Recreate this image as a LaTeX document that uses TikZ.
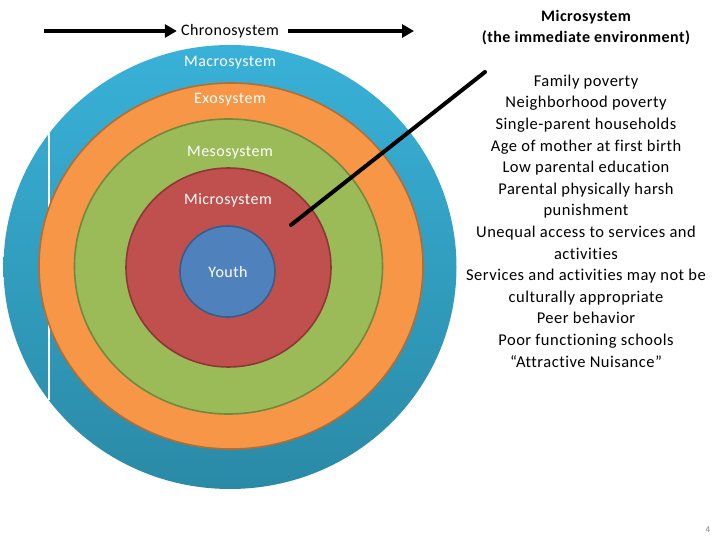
\documentclass[tikz,border=0pt]{standalone}
\usepackage{fontspec}
\setmainfont{Carlito}[LetterSpace=3, Ligatures={NoCommon}, RawFeature={-liga;-clig}]
\usetikzlibrary{arrows.meta,shapes.geometric}
\definecolor{macroTop}{HTML}{39B1D8}
\definecolor{macroBot}{HTML}{2A8AA6}
\definecolor{exoFill}{HTML}{F79646}
\definecolor{exoLine}{HTML}{B66D31}
\definecolor{mesoFill}{HTML}{9BBB59}
\definecolor{mesoLine}{HTML}{71893F}
\definecolor{microFill}{HTML}{C0504D}
\definecolor{microLine}{HTML}{8C3836}
\definecolor{youthFill}{HTML}{4F81BD}
\definecolor{youthLine}{HTML}{385D8A}
\tikzset{
  ring/.style={ellipse, inner sep=0pt, line width=1.6pt},
  ringlabel/.style={text=white, font=\fontsize{16}{18}\selectfont, inner sep=0pt},
  blacktext/.style={text=black, font=\fontsize{16.5}{21.6}\selectfont, align=center, inner sep=0pt},
  bigarrow/.style={line width=3.5pt, -{Triangle[length=12pt,width=13pt]}},
  pointer/.style={line width=4pt, line cap=round},
}
\begin{document}
\begin{tikzpicture}[x=1pt,y=-1pt]
\useasboundingbox (0,0) rectangle (720,540);
% rings
\node[ring, minimum width=453pt, minimum height=444pt, top color=macroTop, bottom color=macroBot, draw=none] (macro) at (230,267) {};
\draw[white, line width=1.2pt] (49,133) -- (49,400);
\node[ring, minimum width=384pt, minimum height=366pt, fill=exoFill, draw=exoLine] (exo) at (231,266) {};
\node[ring, minimum width=308pt, minimum height=295pt, fill=mesoFill, draw=mesoLine] (meso) at (228.5,266.5) {};
\node[ring, minimum width=205pt, minimum height=199pt, fill=microFill, draw=microLine] (micro) at (228.5,267.5) {};
\node[ring, minimum width=95pt, minimum height=91pt, fill=youthFill, draw=youthLine] (youth) at (227.5,271.5) {};
% ring labels
\node[ringlabel] (lmacro) at (230,63) {Macrosystem};
\node[ringlabel] (lexo) at (230,100) {Exosystem};
\node[ringlabel] (lmeso) at (230,153) {Mesosystem};
\node[ringlabel] (lmicro) at (228,200) {Microsystem};
\node[ringlabel] (lyouth) at (228,272) {Youth};
% chronosystem
\node[blacktext, font=\fontsize{16}{18}\selectfont] (chrono) at (230,31) {Chronosystem};
\coordinate (chronoStart) at (44,31);
\coordinate (chronoEnd) at (414,31);
\draw[bigarrow] (chronoStart) -- ([xshift=-4pt]chrono.west);
\draw[bigarrow] ([xshift=9pt]chrono.east) -- (chronoEnd);
% right side text
\node[blacktext, font=\bfseries\fontsize{16}{21}\selectfont] (head) at (586,27.5) {Microsystem\\(the immediate environment)};
\node[blacktext] (list) at (586,221) {Family poverty\\Neighborhood poverty\\Single-parent households\\Age of mother at first birth\\Low parental education\\Parental physically harsh\\punishment\\Unequal access to services and\\activities\\Services and activities may not be\\culturally appropriate\\Peer behavior\\Poor functioning schools\\“Attractive Nuisance”};
% pointer
\coordinate (pin) at (291,225);
\coordinate (pout) at (485,72);
\draw[pointer] (pin) -- (pout);
% page number
\node[text=gray, font=\fontsize{9}{10}\selectfont, inner sep=0pt] (pagenum) at (708,530) {4};
\end{tikzpicture}
\end{document}
